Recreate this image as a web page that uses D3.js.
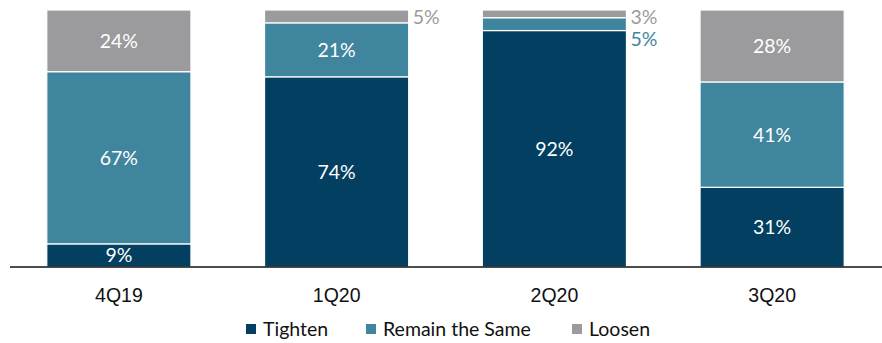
<!DOCTYPE html>
<html>
<head>
<meta charset="utf-8">
<script src="https://cdn.jsdelivr.net/npm/d3@7"></script>
<style>
  html, body { margin: 0; padding: 0; background: #fff; }
  svg { display: block; font-family: "Source Sans Pro", "Lato", "Noto Sans", sans-serif; }
</style>
</head>
<body>
<svg id="chart" width="882" height="343"></svg>
<script>
// Quarterly survey shares (%), stacked bottom to top
const quarters = ["4Q19", "1Q20", "2Q20", "3Q20"];
const tighten  = [9, 74, 92, 31];
const remain   = [67, 21, 5, 41];
const loosen   = [24, 5, 3, 28];
const seriesNames = ["Tighten", "Remain the Same", "Loosen"];
const seriesColors = ["#023f60", "#3f859e", "#9b9b9d"];
// Small segments get their label beside the bar instead of inside it
const outsideMin = 6;

const rows = quarters.map((q, i) => ({
  quarter: q, "Tighten": tighten[i], "Remain the Same": remain[i], "Loosen": loosen[i]
}));

const svg = d3.select("#chart");
const margin = { left: 10, right: 1, top: 10, bottom: 76 };
const W = 882, H = 343;
const fs = 19.5;

const x = d3.scaleBand().domain(quarters)
  .range([margin.left, W - margin.right])
  .paddingInner(0.338).paddingOuter(0.169);
const y = d3.scaleLinear().domain([0, 100]).range([H - margin.bottom, margin.top]);
const color = d3.scaleOrdinal().domain(seriesNames).range(seriesColors);

const stacked = d3.stack().keys(seriesNames)(rows);

const layers = svg.append("g").selectAll("g").data(stacked).join("g")
  .attr("fill", d => color(d.key));

layers.selectAll("rect").data(d => d.map(v => Object.assign(v, { key: d.key })))
  .join("rect")
  .attr("x", d => x(d.data.quarter))
  .attr("width", x.bandwidth())
  .attr("y", d => y(d[1]))
  .attr("height", d => y(d[0]) - y(d[1]))
  .attr("stroke", "#fff")
  .attr("stroke-width", 1.2);

// Value labels
const labels = svg.append("g").attr("font-size", fs);
stacked.forEach((layer, li) => {
  layer.forEach(d => {
    const v = d[1] - d[0];
    const inside = v >= outsideMin;
    let lx, ly, anchor, fill;
    if (inside) {
      lx = x(d.data.quarter) + x.bandwidth() / 2;
      ly = (y(d[0]) + y(d[1])) / 2 + 7;
      anchor = "middle";
      fill = "#fff";
    } else {
      lx = x(d.data.quarter) + x.bandwidth() + 4;
      anchor = "start";
      fill = color(layer.key);
      // stack outside labels downward from the bar top
      ly = layer.key === "Loosen" ? y(100) + 14 : y(100) + 36;
    }
    labels.append("text")
      .attr("x", lx).attr("y", ly)
      .attr("text-anchor", anchor)
      .attr("fill", fill)
      .text(v + "%");
  });
});

// Category axis
const xAxis = svg.append("g")
  .attr("transform", `translate(0,${y(0)})`)
  .call(d3.axisBottom(x).tickSize(0).tickPadding(21).tickSizeOuter(0));
xAxis.select(".domain").attr("stroke", "#111").attr("stroke-width", 1.5)
  .attr("d", `M${margin.left},0H${W}`);
xAxis.selectAll("text").attr("font-size", fs).attr("fill", "#111")
  .attr("font-family", "inherit");

// Legend
const legend = svg.append("g").attr("transform", "translate(0,329)");
const legendX = [246, 366, 572];
seriesNames.forEach((name, i) => {
  const g = legend.append("g").attr("transform", `translate(${legendX[i]},0)`);
  g.append("rect").attr("x", 0).attr("y", -5).attr("width", 10).attr("height", 10)
    .attr("fill", color(name));
  g.append("text").attr("x", 17).attr("y", 7).attr("font-size", fs)
    .attr("fill", "#111").text(name);
});
</script>
</body>
</html>
